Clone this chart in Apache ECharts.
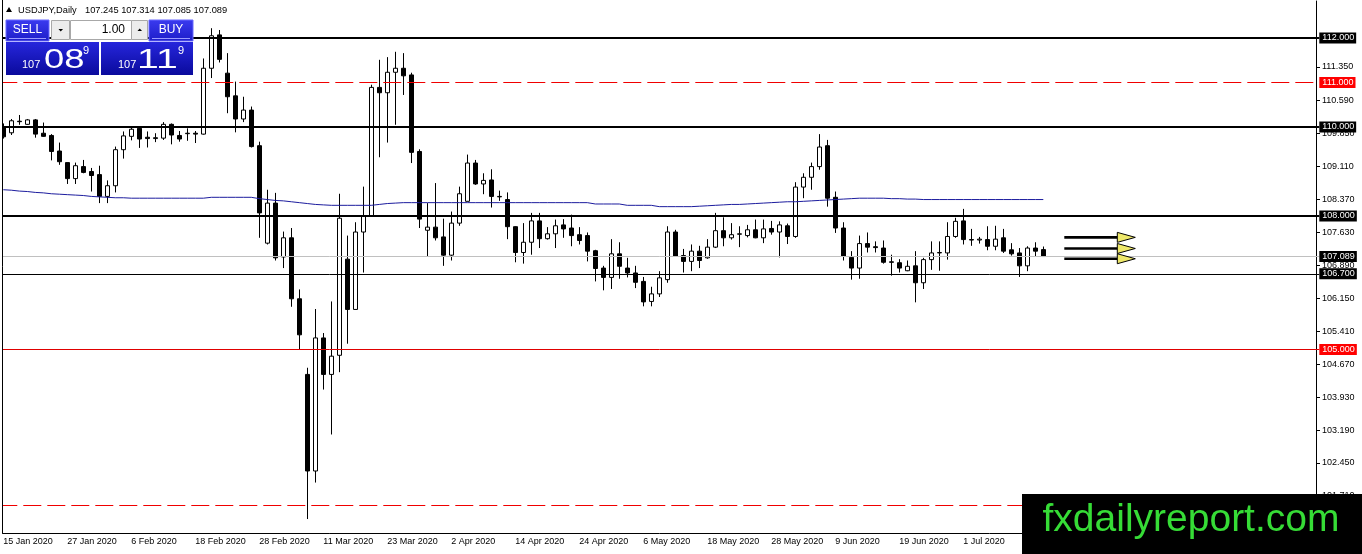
<!DOCTYPE html>
<html><head><meta charset="utf-8">
<script src="https://cdn.jsdelivr.net/npm/echarts@6/dist/echarts.min.js"></script>
<style>html,body{margin:0;padding:0;background:#fff}#c{width:1362px;height:554px}</style>
</head><body><div id="c"></div>
<script>
const dates = [
'15 Jan 2020','16 Jan 2020','17 Jan 2020','20 Jan 2020','21 Jan 2020','22 Jan 2020','23 Jan 2020','24 Jan 2020',
'27 Jan 2020','28 Jan 2020','29 Jan 2020','30 Jan 2020','31 Jan 2020','3 Feb 2020','4 Feb 2020','5 Feb 2020',
'6 Feb 2020','7 Feb 2020','10 Feb 2020','11 Feb 2020','12 Feb 2020','13 Feb 2020','14 Feb 2020','17 Feb 2020',
'18 Feb 2020','19 Feb 2020','20 Feb 2020','21 Feb 2020','24 Feb 2020','25 Feb 2020','26 Feb 2020','27 Feb 2020',
'28 Feb 2020','2 Mar 2020','3 Mar 2020','4 Mar 2020','5 Mar 2020','6 Mar 2020','9 Mar 2020','10 Mar 2020',
'11 Mar 2020','12 Mar 2020','13 Mar 2020','16 Mar 2020','17 Mar 2020','18 Mar 2020','19 Mar 2020','20 Mar 2020',
'23 Mar 2020','24 Mar 2020','25 Mar 2020','26 Mar 2020','27 Mar 2020','30 Mar 2020','31 Mar 2020','1 Apr 2020',
'2 Apr 2020','3 Apr 2020','6 Apr 2020','7 Apr 2020','8 Apr 2020','9 Apr 2020','10 Apr 2020','13 Apr 2020',
'14 Apr 2020','15 Apr 2020','16 Apr 2020','17 Apr 2020','20 Apr 2020','21 Apr 2020','22 Apr 2020','23 Apr 2020',
'24 Apr 2020','27 Apr 2020','28 Apr 2020','29 Apr 2020','30 Apr 2020','1 May 2020','4 May 2020','5 May 2020',
'6 May 2020','7 May 2020','8 May 2020','11 May 2020','12 May 2020','13 May 2020','14 May 2020','15 May 2020',
'18 May 2020','19 May 2020','20 May 2020','21 May 2020','22 May 2020','25 May 2020','26 May 2020','27 May 2020',
'28 May 2020','29 May 2020','1 Jun 2020','2 Jun 2020','3 Jun 2020','4 Jun 2020','5 Jun 2020','8 Jun 2020',
'9 Jun 2020','10 Jun 2020','11 Jun 2020','12 Jun 2020','15 Jun 2020','16 Jun 2020','17 Jun 2020','18 Jun 2020',
'19 Jun 2020','22 Jun 2020','23 Jun 2020','24 Jun 2020','25 Jun 2020','26 Jun 2020','29 Jun 2020','30 Jun 2020',
'1 Jul 2020','2 Jul 2020','3 Jul 2020','6 Jul 2020','7 Jul 2020','8 Jul 2020','9 Jul 2020','10 Jul 2020',
'13 Jul 2020','14 Jul 2020','15 Jul 2020'];

const opens = [
110.00,109.87,110.13,110.06,110.16,109.86,109.81,109.46,109.20,108.84,
109.11,109.00,108.93,108.44,108.68,109.49,109.79,109.97,109.77,109.74,
109.75,110.06,109.81,109.85,109.86,109.84,111.32,112.07,111.21,110.70,
110.18,110.38,109.58,107.39,108.29,107.08,107.51,106.14,104.44,102.27,
105.26,104.44,104.87,107.03,105.90,107.64,108.01,110.89,110.77,111.23,
111.32,111.17,109.45,107.68,107.75,107.53,107.12,107.84,108.33,109.19,
108.72,108.81,108.44,108.37,107.76,107.18,107.41,107.89,107.49,107.60,
107.80,107.73,107.58,107.56,107.22,106.83,106.62,107.15,106.83,106.72,
106.53,106.08,106.25,106.57,107.64,107.11,106.98,107.21,107.06,107.30,
107.67,107.51,107.59,107.56,107.69,107.51,107.72,107.64,107.78,107.54,
108.65,108.87,109.11,109.58,108.42,107.73,107.07,106.83,107.38,107.31,
107.28,106.97,106.95,106.77,106.88,106.50,107.02,107.17,107.17,107.54,
107.89,107.47,107.46,107.47,107.32,107.51,107.24,107.17,106.88,107.28,
107.245];
const highs = [
110.08,110.18,110.27,110.18,110.18,110.10,109.84,109.65,109.20,109.20,
109.26,109.08,109.13,108.80,109.56,109.90,110.01,110.01,109.90,109.86,
110.11,110.08,109.91,109.97,109.91,111.54,112.22,112.18,111.66,111.02,
110.68,110.46,109.67,108.59,108.52,107.65,107.73,106.35,104.59,105.91,
105.37,106.08,108.50,107.56,107.86,108.66,110.95,111.51,111.57,111.69,
111.66,111.22,109.50,108.29,108.74,107.94,108.10,108.66,109.38,109.26,
108.96,109.05,108.57,108.53,107.77,107.84,108.07,108.07,107.75,107.92,
107.93,108.03,107.75,107.63,107.24,106.88,107.48,107.41,107.06,106.88,
106.63,106.41,106.76,107.77,107.69,107.26,107.36,107.33,107.48,108.07,
107.97,107.84,107.77,107.80,107.92,107.92,107.89,107.88,107.83,108.76,
108.96,109.20,109.84,109.71,108.55,107.86,107.21,107.56,107.63,107.43,
107.45,107.13,107.03,107.00,107.21,107.06,107.43,107.43,107.86,107.96,
108.16,107.71,107.53,107.77,107.78,107.71,107.39,107.28,107.32,107.41,
107.314];
const lows = [
109.74,109.82,110.05,110.05,109.76,109.78,109.25,109.15,108.72,108.72,
108.96,108.55,108.29,108.29,108.53,109.29,109.70,109.53,109.54,109.66,
109.71,109.61,109.67,109.69,109.64,109.83,111.10,111.45,110.31,109.88,
110.11,109.54,107.51,107.36,107.00,106.83,105.96,105.00,101.19,102.01,
104.10,103.09,104.49,105.13,105.90,106.73,108.01,109.32,109.65,110.05,
110.72,109.19,107.73,107.09,107.45,106.88,107.00,107.78,108.33,108.70,
108.49,108.19,108.34,107.48,106.96,106.93,107.13,107.28,107.47,107.28,
107.51,107.32,107.36,106.98,106.53,106.33,106.36,106.59,106.62,106.38,
105.97,105.97,106.18,106.50,107.08,106.73,106.76,106.83,107.04,107.28,
107.32,107.47,107.30,107.52,107.50,107.39,107.58,107.07,107.37,107.51,
108.40,108.59,109.04,108.21,107.62,107.00,106.57,106.59,107.18,107.18,
106.93,106.66,106.73,106.76,106.06,106.36,106.79,106.77,107.02,107.51,
107.36,107.33,107.38,107.23,107.23,107.17,107.11,106.63,106.76,107.09,
107.085];
const closes = [
109.78,110.14,110.12,110.16,109.84,109.79,109.45,109.22,108.84,109.13,
108.98,108.91,108.44,108.68,109.49,109.80,109.95,109.73,109.74,109.76,
110.06,109.82,109.73,109.86,109.84,111.32,112.05,111.52,110.68,110.18,
110.38,109.56,108.07,108.29,107.06,107.51,106.14,105.33,102.27,105.26,
104.44,104.85,107.95,105.90,107.64,108.01,110.89,110.77,111.23,111.32,
111.15,109.43,107.93,107.75,107.51,107.12,107.84,108.50,109.19,108.72,
108.80,108.44,108.43,107.76,107.18,107.41,107.89,107.49,107.60,107.78,
107.71,107.56,107.45,107.21,106.82,106.62,107.15,106.87,106.72,106.51,
106.07,106.25,106.61,107.64,107.09,106.98,107.21,107.00,107.30,107.67,
107.51,107.58,107.60,107.69,107.51,107.71,107.64,107.80,107.54,108.65,
108.87,109.11,109.55,108.40,107.73,107.09,106.83,107.38,107.30,107.29,
106.96,106.96,106.83,106.87,106.50,107.02,107.17,107.18,107.54,107.88,
107.47,107.46,107.48,107.32,107.48,107.21,107.15,106.88,107.28,107.21,
107.089];
const movingAvg = [
108.59,108.58,108.56,108.55,108.53,108.52,108.50,108.49,108.48,108.47,
108.46,108.44,108.43,108.42,108.41,108.41,108.40,108.40,108.40,108.40,
108.40,108.40,108.40,108.40,108.40,108.40,108.42,108.42,108.42,108.42,
108.42,108.42,108.39,108.37,108.35,108.34,108.32,108.30,108.28,108.26,
108.25,108.24,108.24,108.24,108.24,108.24,108.24,108.26,108.28,108.29,
108.30,108.30,108.30,108.30,108.30,108.30,108.30,108.30,108.30,108.30,
108.30,108.30,108.30,108.30,108.30,108.30,108.30,108.30,108.30,108.30,
108.30,108.30,108.30,108.30,108.27,108.27,108.27,108.27,108.24,108.24,
108.24,108.24,108.21,108.21,108.21,108.21,108.21,108.22,108.23,108.24,
108.25,108.26,108.26,108.27,108.28,108.29,108.30,108.31,108.32,108.32,
108.33,108.34,108.35,108.36,108.37,108.38,108.39,108.40,108.40,108.40,
108.40,108.39,108.39,108.38,108.38,108.37,108.37,108.37,108.37,108.37,
108.37,108.37,108.37,108.37,108.37,108.37,108.37,108.37,108.37,108.37,
108.37];
const yTicks = [111.35,110.59,109.85,109.11,108.37,107.63,106.89,106.15,105.41,104.67,103.93,103.19,102.45,101.71];
const blackLevels = [112.000, 110.000, 108.000];
const redDashedLevels = [111.000, 101.500];
const redSolidLevels = [105.000];
const thinBlackLevels = [106.700];
const lastPrice = 107.089;
const arrowLevels = [107.52, 107.27, 107.04];
const titleSymbol = 'USDJPY,Daily';
const titleValues = '107.245 107.314 107.085 107.089';
const slots = 165;

const categories = dates.concat(new Array(slots - dates.length).fill(''));
const candles = dates.map((d, i) => [opens[i], closes[i], lows[i], highs[i]]);

const FONT = 'Liberation Sans';
function lvlLabel(v, bg) {
  const txt = v.toFixed(3);
  return { show: true, position: 'end', distance: 0, formatter: () => txt,
    color: '#fff', backgroundColor: bg, fontSize: 9, fontFamily: FONT, padding: [1, 2, 0, 3], lineHeight: 10 };
}
const mlData = [];
blackLevels.forEach(v => mlData.push({ yAxis: v, lineStyle: { color: '#000', width: 2, type: 'solid' }, label: lvlLabel(v, '#000') }));
redDashedLevels.forEach(v => mlData.push({ yAxis: v, lineStyle: { color: '#f00000', width: 1, type: [18, 6], dashOffset: 0 }, label: lvlLabel(v, '#ff0000') }));
redSolidLevels.forEach(v => mlData.push({ yAxis: v, lineStyle: { color: '#e00000', width: 1, type: 'solid' }, label: lvlLabel(v, '#ff0000') }));
thinBlackLevels.forEach(v => mlData.push({ yAxis: v, lineStyle: { color: '#000', width: 1, type: 'solid' }, label: lvlLabel(v, '#000') }));
mlData.push({ yAxis: lastPrice, lineStyle: { color: '#c0c0c0', width: 1, type: 'solid' }, label: lvlLabel(lastPrice, '#000') });

const labelInterval = (idx, val) => idx % 8 === 0 && val !== '';

const chart = echarts.init(document.getElementById('c'), null, { renderer: 'canvas' });
chart.setOption({
  animation: false,
  backgroundColor: '#fff',
  grid: { left: -0.7, right: 42.7, top: 1, bottom: 21, containLabel: false, outerBoundsMode: 'none' },
  xAxis: {
    type: 'category', data: categories, boundaryGap: true,
    axisLine: { lineStyle: { color: '#000', width: 1 } },
    axisTick: { alignWithLabel: true, interval: labelInterval, length: 3, lineStyle: { color: '#000' } },
    axisLabel: { interval: labelInterval, align: 'left', margin: 4, color: '#000', fontSize: 9, fontFamily: FONT },
    splitLine: { show: false }
  },
  yAxis: {
    type: 'value', position: 'right', offset: -3.3, min: 100.8764, max: 112.8315, scale: true,
    axisLine: { show: true, lineStyle: { color: '#000', width: 1 } },
    axisTick: { show: true, customValues: yTicks, length: 4, inside: false, lineStyle: { color: '#000' } },
    axisLabel: { customValues: yTicks, formatter: v => Number(v).toFixed(3), margin: 6, color: '#000', fontSize: 9, fontFamily: FONT },
    splitLine: { show: false }
  },
  series: [
    {
      type: 'candlestick', data: candles, barWidth: 5, silent: true,
      itemStyle: { color: '#fff', color0: '#000', borderColor: '#000', borderColor0: '#000', borderWidth: 1 },
      markLine: { symbol: ['none', 'none'], silent: true, animation: false, emphasis: { disabled: true }, data: mlData }
    },
    {
      type: 'line', data: movingAvg, symbol: 'none', showSymbol: false, silent: true, z: 3,
      lineStyle: { color: '#1c1c9e', width: 1 }
    }
  ]
});

function px(i, v) { return chart.convertToPixel({ seriesIndex: 0 }, [i, v]); }
const g = [];
g.push({ type: 'rect', z: 100, shape: { x: 0, y: 0, width: 2.2, height: 534 }, style: { fill: '#fff' } });
g.push({ type: 'line', z: 101, shape: { x1: 2.5, y1: 0, x2: 2.5, y2: 533.5 }, style: { stroke: '#000', lineWidth: 1 } });
arrowLevels.forEach(v => {
  const a = px(133, v), b = px(139, v);
  const x0 = a[0] - 3, x1 = b[0] + 2, y = a[1];
  g.push({ type: 'line', z: 50, shape: { x1: x0, y1: y, x2: x1, y2: y }, style: { stroke: '#000', lineWidth: 2.6 } });
  g.push({ type: 'polygon', z: 51, shape: { points: [[x1, y - 5], [x1 + 18, y], [x1, y + 5]] }, style: { fill: '#eee86a', stroke: '#000', lineWidth: 1 } });
});
g.push({ type: 'polygon', z: 100, shape: { points: [[6, 12], [12, 12], [9, 7]] }, style: { fill: '#000' } });
g.push({ type: 'text', z: 100, style: { x: 18, y: 10, text: titleSymbol, fill: '#000', font: '9.3px ' + FONT, verticalAlign: 'middle' } });
g.push({ type: 'text', z: 100, style: { x: 85, y: 10, text: titleValues, fill: '#000', font: '9.3px ' + FONT, verticalAlign: 'middle' } });
const btnGrad = new echarts.graphic.LinearGradient(0, 0, 0, 1, [{ offset: 0, color: '#3b3bf0' }, { offset: 1, color: '#1c1cc8' }]);
const pnlGrad = new echarts.graphic.LinearGradient(0, 0, 0, 1, [{ offset: 0, color: '#2626dc' }, { offset: 1, color: '#0a0a9c' }]);
g.push({ type: 'rect', z: 100, shape: { x: 6, y: 20, width: 43, height: 21 }, style: { fill: btnGrad, stroke: '#6a6aff', lineWidth: 1 } });
g.push({ type: 'text', z: 101, style: { x: 27.5, y: 29.5, text: 'SELL', fill: '#fff', font: '12px ' + FONT, align: 'center', verticalAlign: 'middle' } });
g.push({ type: 'line', z: 101, shape: { x1: 9, y1: 38.5, x2: 46, y2: 38.5 }, style: { stroke: '#9a9aff', lineWidth: 1 } });
g.push({ type: 'rect', z: 100, shape: { x: 51.5, y: 20.5, width: 18, height: 19 }, style: { fill: '#ececec', stroke: '#a8a8a8', lineWidth: 1 } });
g.push({ type: 'polygon', z: 101, shape: { points: [[58.5, 29], [63, 29], [60.75, 31.5]] }, style: { fill: '#000' } });
g.push({ type: 'rect', z: 100, shape: { x: 70.5, y: 20.5, width: 61, height: 19 }, style: { fill: '#fff', stroke: '#a8a8a8', lineWidth: 1 } });
g.push({ type: 'text', z: 101, style: { x: 125, y: 30, text: '1.00', fill: '#000', font: '12px ' + FONT, align: 'right', verticalAlign: 'middle' } });
g.push({ type: 'rect', z: 100, shape: { x: 131.5, y: 20.5, width: 16, height: 19 }, style: { fill: '#ececec', stroke: '#a8a8a8', lineWidth: 1 } });
g.push({ type: 'polygon', z: 101, shape: { points: [[137.5, 31], [142, 31], [139.75, 28.5]] }, style: { fill: '#000' } });
g.push({ type: 'rect', z: 100, shape: { x: 149, y: 20, width: 44, height: 21 }, style: { fill: btnGrad, stroke: '#6a6aff', lineWidth: 1 } });
g.push({ type: 'text', z: 101, style: { x: 171, y: 29.5, text: 'BUY', fill: '#fff', font: '12px ' + FONT, align: 'center', verticalAlign: 'middle' } });
g.push({ type: 'line', z: 101, shape: { x1: 152, y1: 38.5, x2: 190, y2: 38.5 }, style: { stroke: '#9a9aff', lineWidth: 1 } });
g.push({ type: 'rect', z: 100, shape: { x: 6, y: 42, width: 93, height: 33 }, style: { fill: pnlGrad } });
g.push({ type: 'rect', z: 100, shape: { x: 101, y: 42, width: 92, height: 33 }, style: { fill: pnlGrad } });
function priceTxt(x, y, t, size, sx) {
  g.push({ type: 'text', z: 102, x: x, y: y, scaleX: sx || 1, style: { x: 0, y: 0, text: t, fill: '#fff', font: size + 'px ' + FONT, verticalAlign: 'middle' } });
}
priceTxt(22, 65, '107', 11);
priceTxt(44, 60, '08', 28, 1.3);
priceTxt(83, 51, '9', 11);
priceTxt(118, 65, '107', 11);
priceTxt(137, 60, '11', 28, 1.4);
priceTxt(178, 51, '9', 11);
g.push({ type: 'rect', z: 200, shape: { x: 1022, y: 494, width: 340, height: 60 }, style: { fill: '#000' } });
g.push({ type: 'text', z: 201, style: { x: 1191, y: 520, text: 'fxdailyreport.com', fill: '#36dc36', font: '39px ' + FONT, align: 'center', verticalAlign: 'middle' } });
chart.setOption({ graphic: { elements: g } });
</script></body></html>
